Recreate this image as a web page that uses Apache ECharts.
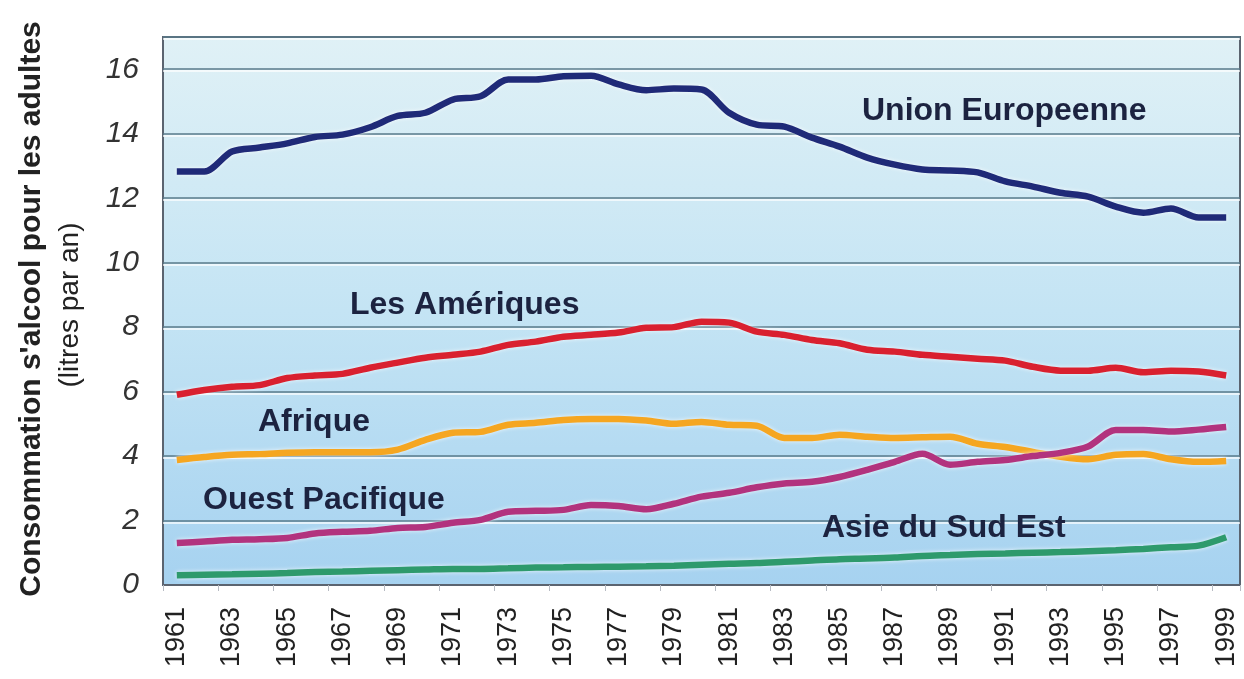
<!DOCTYPE html>
<html>
<head>
<meta charset="utf-8">
<script src="https://cdn.jsdelivr.net/npm/echarts@6/dist/echarts.min.js"></script>
<style>
html, body { margin: 0; padding: 0; background: #fff; }
#chart { width: 1244px; height: 679px; }
</style>
</head>
<body>
<div id="chart"></div>
<script>
// années 1961 - 1999
var years = [];
for (var y = 1961; y <= 1999; y++) years.push(String(y));

var unionEuropeenne = [12.83, 12.83, 13.45, 13.57, 13.7, 13.9, 13.97, 14.2, 14.55, 14.65,
    15.06, 15.16, 15.68, 15.68, 15.78, 15.8, 15.53, 15.35, 15.4, 15.37,
    14.65, 14.28, 14.22, 13.88, 13.6, 13.26, 13.04, 12.89, 12.86, 12.8,
    12.52, 12.36, 12.17, 12.05, 11.74, 11.55, 11.68, 11.4, 11.4];
var ameriques = [5.9, 6.05, 6.15, 6.2, 6.42, 6.5, 6.55, 6.74, 6.9, 7.05,
    7.14, 7.24, 7.45, 7.55, 7.7, 7.76, 7.83, 7.98, 8.0, 8.17,
    8.14, 7.86, 7.76, 7.6, 7.5, 7.3, 7.24, 7.14, 7.08, 7.02,
    6.96, 6.77, 6.65, 6.65, 6.74, 6.6, 6.65, 6.62, 6.5];
var afrique = [3.88, 3.97, 4.04, 4.06, 4.1, 4.12, 4.12, 4.12, 4.2, 4.5,
    4.72, 4.75, 4.97, 5.03, 5.12, 5.15, 5.15, 5.1, 5.0, 5.06,
    4.97, 4.94, 4.56, 4.56, 4.66, 4.6, 4.56, 4.58, 4.6, 4.38,
    4.28, 4.13, 3.98, 3.9, 4.04, 4.06, 3.9, 3.82, 3.85];
var ouestPacifique = [1.3, 1.35, 1.4, 1.42, 1.46, 1.6, 1.65, 1.68, 1.77, 1.8,
    1.93, 2.02, 2.27, 2.3, 2.33, 2.48, 2.45, 2.35, 2.52, 2.74,
    2.86, 3.03, 3.15, 3.2, 3.35, 3.57, 3.82, 4.07, 3.73, 3.82,
    3.88, 4.0, 4.1, 4.3, 4.81, 4.81, 4.76, 4.82, 4.9];
var asieSudEst = [0.3, 0.32, 0.33, 0.35, 0.37, 0.4, 0.42, 0.44, 0.46, 0.48,
    0.5, 0.5, 0.52, 0.54, 0.55, 0.56, 0.57, 0.58, 0.6, 0.63,
    0.66, 0.68, 0.72, 0.76, 0.8, 0.82, 0.85, 0.9, 0.93, 0.96,
    0.98, 1.0, 1.02, 1.05, 1.08, 1.12, 1.17, 1.22, 1.48];

var dom = document.getElementById('chart');
var myChart = echarts.init(dom);

function ligne(nom, data, couleur) {
    return {
        name: nom,
        type: 'line',
        data: data,
        smooth: 0.3,
        showSymbol: false,
        animation: false,
        lineStyle: {
            width: 6.5,
            color: couleur,
            shadowColor: 'rgba(255,255,255,0.8)',
            shadowBlur: 4
        }
    };
}

function etiquette(texte, x, y) {
    return {
        type: 'text',
        left: x,
        top: y,
        z: 100,
        style: {
            text: texte,
            fill: '#1c2340',
            font: 'bold 32px "Liberation Sans", Arial, sans-serif'
        }
    };
}

var option = {
    backgroundColor: '#fff',
    grid: {
        left: 163,
        top: 37,
        right: 4,
        bottom: 94,
        show: true,
        borderColor: '#5b6470',
        borderWidth: 2,
        backgroundColor: new echarts.graphic.LinearGradient(0, 0, 0, 1, [
            { offset: 0, color: '#e0f1f6' },
            { offset: 0.5, color: '#c4e4f4' },
            { offset: 1, color: '#a6d2f0' }
        ])
    },
    xAxis: {
        type: 'category',
        data: years,
        boundaryGap: true,
        axisLine: { lineStyle: { color: '#5b6470', width: 2 } },
        axisTick: { show: true, length: 6, lineStyle: { color: '#b8bcc4' } },
        axisLabel: {
            interval: 1,
            rotate: 90,
            margin: 22,
            fontSize: 27,
            color: '#222',
            fontFamily: 'Liberation Sans'
        }
    },
    yAxis: {
        type: 'value',
        min: 0,
        max: 17,
        interval: 2,
        axisLine: { show: false },
        axisTick: { show: false },
        axisLabel: {
            fontSize: 30,
            fontStyle: 'italic',
            color: '#333',
            fontFamily: 'Liberation Sans',
            margin: 24,
            formatter: function(v) {
                return v > 16 ? '' : v;
            }
        },
        splitLine: {
            lineStyle: {
                color: '#587a8a',
                width: 1.5,
                shadowColor: 'rgba(255,255,255,0.9)',
                shadowOffsetY: 2,
                shadowBlur: 0
            }
        }
    },
    series: [
        ligne('Union Europeenne', unionEuropeenne, '#1f2a78'),
        ligne('Les Amériques', ameriques, '#d9202f'),
        ligne('Afrique', afrique, '#f5a621'),
        ligne('Ouest Pacifique', ouestPacifique, '#b2337e'),
        ligne('Asie du Sud Est', asieSudEst, '#2e9a6c')
    ],
    graphic: [
        etiquette('Union Europeenne', 862, 95),
        etiquette('Les Amériques', 350, 289),
        etiquette('Afrique', 258, 406),
        etiquette('Ouest Pacifique', 203, 484),
        etiquette('Asie du Sud Est', 822, 512),
        { // titre de l'axe y
            type: 'text',
            x: 32,
            y: 309,
            z: 100,
            rotation: Math.PI / 2,
            style: {
                text: "Consommation s'alcool pour les adultes",
                fill: '#222',
                font: 'bold 30px "Liberation Sans", Arial, sans-serif',
                align: 'center',
                verticalAlign: 'middle'
            }
        },
        {
            type: 'text',
            x: 70,
            y: 305,
            z: 100,
            rotation: Math.PI / 2,
            style: {
                text: '(litres par an)',
                fill: '#222',
                font: '28px "Liberation Sans", Arial, sans-serif',
                align: 'center',
                verticalAlign: 'middle'
            }
        }
    ]
};
myChart.setOption(option, true);
</script>
</body>
</html>
